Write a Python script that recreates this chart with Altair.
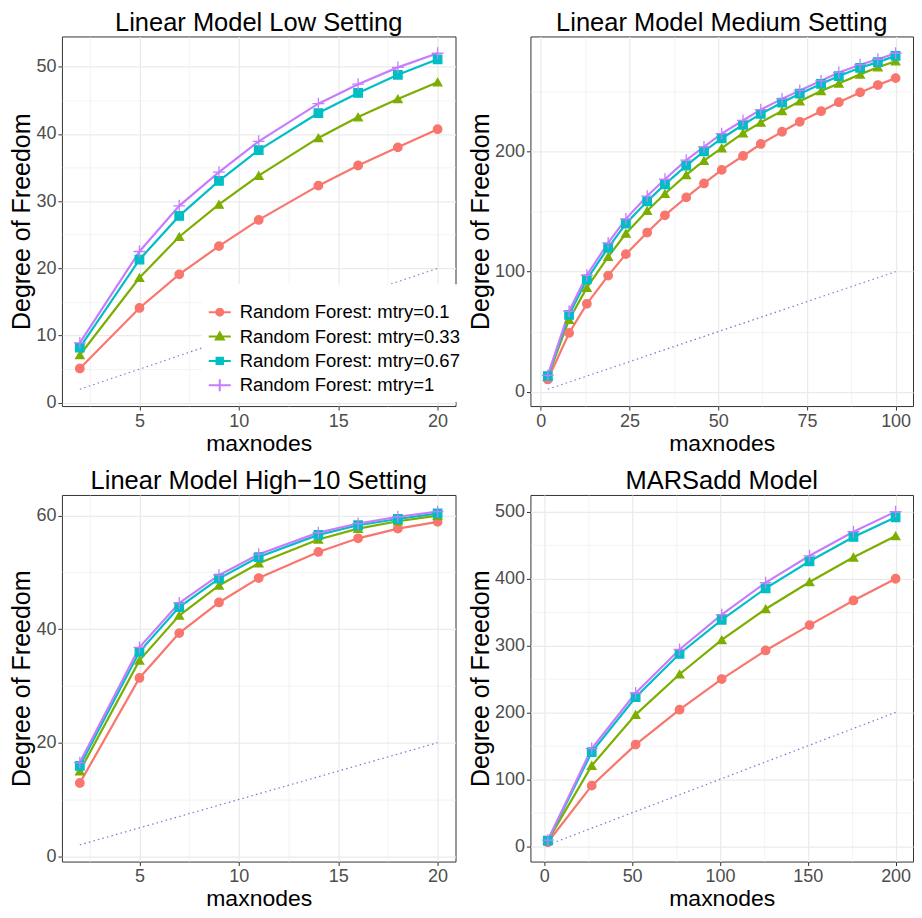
import altair as alt
import pandas as pd

FONT = "Liberation Sans"

series_names = [
    "Random Forest: mtry=0.1",
    "Random Forest: mtry=0.33",
    "Random Forest: mtry=0.67",
    "Random Forest: mtry=1",
]
colors = ["#F8766D", "#7CAE00", "#00BFC4", "#C77CFF"]
point_shapes = ["circle", "triangle-up", "square", "M-1.4,0L1.4,0M0,-1.4L0,1.4"]
legend_shapes = [
    "M-1,0L1,0M0.32,0A0.32,0.32,0,1,1,-0.32,0A0.32,0.32,0,1,1,0.32,0Z",
    "M-1,0L1,0M0,-0.36L0.36,0.26L-0.36,0.26Z",
    "M-1,0L1,0M-0.29,-0.29L0.29,-0.29L0.29,0.29L-0.29,0.29Z",
    "M-1,0L1,0M0,-0.55L0,0.55",
]

# Panel 1: Linear Model Low Setting
low_x = [2, 5, 7, 9, 11, 14, 16, 18, 20]
low_01 = [5.1, 14.1, 19.1, 23.3, 27.2, 32.3, 35.3, 38.0, 40.7]
low_033 = [7.1, 18.6, 24.7, 29.5, 33.8, 39.4, 42.5, 45.2, 47.7]
low_067 = [8.2, 21.3, 27.8, 33.0, 37.6, 43.1, 46.1, 48.8, 51.1]
low_1 = [8.9, 22.5, 29.3, 34.3, 38.9, 44.5, 47.4, 49.9, 52.0]
low_ref_x = [2, 20]
low_ref_y = [2, 20]

# Panel 2: Linear Model Medium Setting
med_x = [2, 8, 13, 19, 24, 30, 35, 41, 46, 51, 57, 62, 68, 73, 79, 84, 90, 95, 100]
med_01 = [10.2, 48.9, 73.2, 96.7, 114.6, 132.6, 147.0, 161.9, 173.5, 184.8,
          196.4, 206.4, 216.6, 224.9, 233.7, 241.2, 249.4, 255.5, 261.3]
med_033 = [12.5, 60.0, 86.7, 112.4, 131.8, 150.8, 164.9, 180.7, 192.5, 203.0,
           215.5, 224.3, 234.0, 242.0, 250.6, 256.9, 264.4, 270.4, 275.4]
med_067 = [13.0, 64.0, 93.6, 119.9, 140.0, 158.6, 172.7, 188.4, 200.3, 211.0,
           222.4, 231.5, 240.9, 248.3, 256.4, 263.0, 269.9, 274.6, 279.8]
med_1 = [13.5, 67.0, 97.0, 124.0, 144.0, 163.0, 177.0, 193.0, 204.0, 215.0,
         226.0, 235.0, 244.0, 251.0, 259.0, 266.0, 272.5, 277.0, 282.0]
med_ref_x = [2, 100]
med_ref_y = [2, 100]

# Panel 3: Linear Model High-10 Setting
high_x = [2, 5, 7, 9, 11, 14, 16, 18, 20]
high_01 = [12.9, 31.4, 39.3, 44.7, 49.0, 53.6, 56.0, 57.7, 58.9]
high_033 = [15.0, 34.5, 42.4, 47.7, 51.6, 55.8, 57.7, 59.0, 60.0]
high_067 = [15.9, 36.0, 43.9, 48.9, 52.7, 56.6, 58.3, 59.4, 60.4]
high_1 = [16.5, 36.8, 44.6, 49.5, 53.2, 57.0, 58.6, 59.8, 60.7]
high_ref_x = [2, 20]
high_ref_y = [2, 20]

# Panel 4: MARSadd Model
mars_x = [2, 27, 52, 77, 101, 126, 151, 176, 200]
mars_01 = [5.9, 90.5, 151.9, 204.0, 249.8, 292.5, 330.4, 367.3, 399.7]
mars_033 = [8.4, 120.5, 196.7, 257.0, 308.3, 354.5, 394.8, 431.7, 463.6]
mars_067 = [8.4, 140.6, 222.7, 287.6, 338.3, 385.4, 425.8, 462.1, 491.6]
mars_1 = [9.0, 146.0, 229.0, 294.0, 346.0, 394.0, 434.0, 470.0, 500.0]
mars_ref_x = [2, 200]
mars_ref_y = [2, 200]

# axis breaks (major, minor)
low_xmaj, low_xmin = [5, 10, 15, 20], [2.5, 7.5, 12.5, 17.5]
low_ymaj, low_ymin = [0, 10, 20, 30, 40, 50], [5, 15, 25, 35, 45]
med_xmaj, med_xmin = [0, 25, 50, 75, 100], [12.5, 37.5, 62.5, 87.5]
med_ymaj, med_ymin = [0, 100, 200], [50, 150, 250]
high_xmaj, high_xmin = [5, 10, 15, 20], [2.5, 7.5, 12.5, 17.5]
high_ymaj, high_ymin = [0, 20, 40, 60], [10, 30, 50]
mars_xmaj, mars_xmin = [0, 50, 100, 150, 200], [25, 75, 125, 175]
mars_ymaj, mars_ymin = [0, 100, 200, 300, 400, 500], [50, 150, 250, 350, 450]


def expand(vals):
    lo, hi = min(vals), max(vals)
    pad = (hi - lo) * 0.05
    return [lo - pad, hi + pad]


def make_axis(major, minor, title, **kw):
    arr = "[" + ",".join(str(v) for v in major) + "]"
    minor_test = f"indexof({arr}, datum.value) < 0"
    return alt.Axis(
        values=sorted(major + minor),
        labelExpr=f"indexof({arr}, datum.value) >= 0 ? datum.label : ''",
        gridWidth={"condition": {"test": minor_test, "value": 0.6}, "value": 1.3},
        tickOpacity={"condition": {"test": minor_test, "value": 0}, "value": 1},
        title=title,
        labelOverlap=False,
        labelFlush=False,
        **kw,
    )


def panel(title, x, ys, ref_x, ref_y, xmaj, xmin, ymaj, ymin, w, h, legend=False):
    rows = []
    for name, yv in zip(series_names, ys):
        for xi, yi in zip(x, yv):
            rows.append({"maxnodes": xi, "dof": yi, "series": name})
    df = pd.DataFrame(rows)
    ref = pd.DataFrame({"maxnodes": ref_x, "dof": ref_y})

    xd = expand(list(x) + list(ref_x))
    yd = expand([v for yv in ys for v in yv] + list(ref_y))

    xenc = alt.X("maxnodes:Q", scale=alt.Scale(domain=xd, nice=False, zero=False),
                 axis=make_axis(xmaj, xmin, "maxnodes", titleFontSize=23, titlePadding=2))
    yenc = alt.Y("dof:Q", scale=alt.Scale(domain=yd, nice=False, zero=False),
                 axis=make_axis(ymaj, ymin, "Degree of Freedom", titleFontSize=25, titlePadding=1))
    sdom = alt.Scale(domain=series_names, range=colors)

    ref_layer = alt.Chart(ref).mark_line(
        color="#6A5ACD", strokeWidth=1.2, strokeDash=[1.5, 3.2], opacity=0.85
    ).encode(x=xenc, y=yenc)

    lines = alt.Chart(df).mark_line(strokeWidth=2.2).encode(
        x=xenc, y=yenc,
        color=alt.Color("series:N", scale=sdom, legend=None),
        detail="series:N",
    )
    pts = alt.Chart(df).mark_point(size=72, strokeWidth=1.3, opacity=1).encode(
        x=xenc, y=yenc,
        fill=alt.Fill("series:N", scale=sdom, legend=None),
        stroke=alt.Stroke("series:N", scale=sdom, legend=None),
        shape=alt.Shape("series:N", scale=alt.Scale(domain=series_names, range=point_shapes), legend=None),
    )
    layers = [ref_layer, lines, pts]
    if legend:
        lg = alt.Legend(
            title=" ", orient="none", legendX=140, legendY=248,
            fillColor="white", padding=6, labelFontSize=18.5, labelFont=FONT,
            labelColor="black", symbolSize=484, symbolStrokeWidth=2,
            labelOffset=8, rowPadding=2.4, titleFontSize=8, titlePadding=2,
            symbolOpacity=1, labelLimit=400,
        )
        leg_layer = alt.Chart(df).transform_filter("false").mark_point(
            opacity=1, strokeWidth=2
        ).encode(
            x=xenc, y=yenc,
            fill=alt.Fill("series:N", scale=sdom, legend=lg),
            stroke=alt.Stroke("series:N", scale=sdom, legend=lg),
            shape=alt.Shape("series:N", scale=alt.Scale(domain=series_names, range=legend_shapes), legend=lg),
        )
        layers.append(leg_layer)
    ch = alt.layer(*layers).properties(
        width=w, height=h,
        title=alt.TitleParams(title, fontSize=25.5, font=FONT, fontWeight="normal",
                              anchor="middle", frame="group", offset=0, color="black"),
    )
    if legend:
        ch = ch.resolve_scale(shape="independent", fill="independent", stroke="independent")
    return ch


p1 = panel("Linear Model Low Setting", low_x, [low_01, low_033, low_067, low_1],
           low_ref_x, low_ref_y, low_xmaj, low_xmin, low_ymaj, low_ymin, 394, 370, legend=True)
p2 = panel("Linear Model Medium Setting", med_x, [med_01, med_033, med_067, med_1],
           med_ref_x, med_ref_y, med_xmaj, med_xmin, med_ymaj, med_ymin, 383, 370)
p3 = panel("Linear Model High\u221210 Setting", high_x, [high_01, high_033, high_067, high_1],
           high_ref_x, high_ref_y, high_xmaj, high_xmin, high_ymaj, high_ymin, 394, 367)
p4 = panel("MARSadd Model", mars_x, [mars_01, mars_033, mars_067, mars_1],
           mars_ref_x, mars_ref_y, mars_xmaj, mars_xmin, mars_ymaj, mars_ymin, 383, 367)

chart = alt.concat(
    p1, p2, p3, p4, columns=2,
    spacing={"row": 89, "column": 75},
    bounds="flush",
).properties(
    padding={"left": 1, "top": 2, "right": 0, "bottom": 0},
    background="white",
).configure_view(
    stroke="#333333", strokeWidth=1
).configure_axis(
    domain=False,
    labelFont=FONT, labelFontSize=18, labelColor="#4D4D4D", labelPadding=2,
    titleFont=FONT, titleColor="black", titleFontWeight="normal",
    tickColor="#333333", tickSize=4, tickWidth=1,
    gridColor="#EBEBEB",
).configure_legend(
    labelFontSize=18.5, labelFont=FONT, labelColor="black", labelLimit=400,
)

chart.save("out.html", embed_options={"renderer": "svg", "actions": False})
